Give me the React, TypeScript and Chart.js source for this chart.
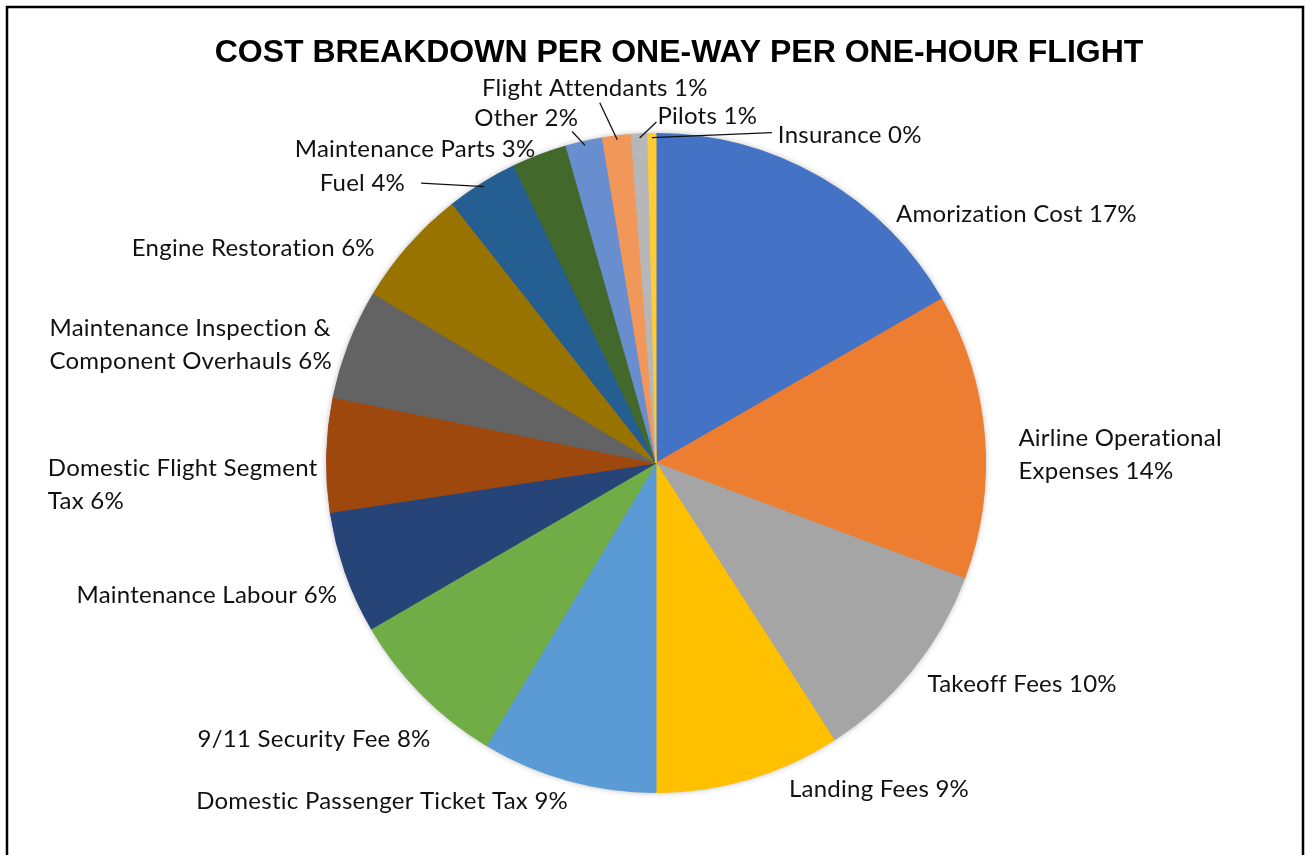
import React, { useEffect, useRef } from "react";
import { Chart, registerables } from "chart.js";

Chart.register(...registerables);

const TITLE = "COST BREAKDOWN PER ONE-WAY PER ONE-HOUR FLIGHT";

const CATEGORIES = [
  "Amorization Cost",
  "Airline Operational\nExpenses",
  "Takeoff Fees",
  "Landing Fees",
  "Domestic Passenger Ticket Tax",
  "9/11 Security Fee",
  "Maintenance Labour",
  "Domestic Flight Segment\nTax",
  "Maintenance Inspection &\nComponent Overhauls",
  "Engine Restoration",
  "Fuel",
  "Maintenance Parts",
  "Other",
  "Flight Attendants",
  "Pilots",
  "Insurance",
];

const VALUES = [16.7, 14.0, 10.2, 9.1, 8.6, 8.0, 6.0, 5.6, 5.4, 5.8, 3.5, 2.7, 1.8, 1.4, 0.8, 0.4];

const PERCENT_LABELS = ["17%", "14%", "10%", "9%", "9%", "8%", "6%", "6%", "6%", "6%", "4%", "3%", "2%", "1%", "1%", "0%"];

const COLORS = [
  "#4472C4", "#ED7D31", "#A5A5A5", "#FFC000", "#5B9BD5", "#70AD47",
  "#264478", "#9E480E", "#636363", "#997300", "#255E91", "#43682B",
  "#698ED0", "#F1975A", "#B7B7B7", "#FFCD33",
];

// label placement relative to the rim point at each slice's mid-angle: [dx, dy, align]
const LABEL_OFFSETS: [number, number, string][] = [
  [75, 36, "l"],
  [34, 18.5, "l"],
  [15, 14, "l"],
  [40, 10, "l"],
  [0, 21, "r"],
  [9, 45, "r"],
  [-8, 23, "r"],
  [-9, 30, "r"],
  [-17, 1, "r"],
  [-34, 3, "r"],
  [-77, 0, "r"],
  [-4, -6, "r"],
  [-6, -23, "r"],
  [91, -48, "r"],
  [18, -18, "l"],
  [126, 2, "l"],
];

// leader line end offsets relative to rim point
const LEADERS: Record<number, [number, number]> = {
  10: [-61, 0],
  12: [-12, -10],
  13: [-17, -33],
  14: [17, -12],
  15: [120, -1],
};

const LABEL_FONT = '24px Lato, "Noto Sans", sans-serif';
const LINE_HEIGHT = 33;

const overlayPlugin = {
  id: "overlay",
  beforeDatasetsDraw(chart: any) {
    const meta = chart.getDatasetMeta(0);
    const el = meta.data[0];
    if (!el) return;
    const p = el.getProps(["x", "y", "outerRadius"], true);
    const ctx = chart.ctx;
    ctx.save();
    ctx.shadowColor = "rgba(0,0,0,0.35)";
    ctx.shadowBlur = 6;
    ctx.fillStyle = "#888";
    ctx.beginPath();
    ctx.arc(p.x, p.y, p.outerRadius - 0.5, 0, Math.PI * 2);
    ctx.fill();
    ctx.restore();
  },
  afterDraw(chart: any) {
    const ctx = chart.ctx;
    const W = chart.width;
    ctx.save();
    // frame
    ctx.strokeStyle = "#000";
    ctx.lineWidth = 2.5;
    ctx.beginPath();
    ctx.moveTo(7, 900);
    ctx.lineTo(7, 7);
    ctx.lineTo(W - 3, 7);
    ctx.lineTo(W - 3, 900);
    ctx.stroke();

    // title
    ctx.fillStyle = "#000";
    ctx.font = 'bold 32px "Liberation Sans", Arial, sans-serif';
    ctx.textAlign = "center";
    ctx.textBaseline = "alphabetic";
    ctx.fillText(TITLE, 679, 62);

    // labels
    const meta = chart.getDatasetMeta(0);
    ctx.font = LABEL_FONT;
    try {
      (ctx as any).letterSpacing = "0.25px";
    } catch (e) {}
    ctx.textBaseline = "middle";
    ctx.fillStyle = "#111";
    meta.data.forEach((el: any, i: number) => {
      const p = el.getProps(["x", "y", "startAngle", "endAngle", "outerRadius"], true);
      const mid = (p.startAngle + p.endAngle) / 2;
      const rx = p.x + Math.cos(mid) * p.outerRadius;
      const ry = p.y + Math.sin(mid) * p.outerRadius;
      const [dx, dy, align] = LABEL_OFFSETS[i];
      const text = CATEGORIES[i] + " " + PERCENT_LABELS[i];
      const lines = text.split("\n");
      const widths = lines.map((l) => ctx.measureText(l).width);
      const bw = Math.max(...widths);
      const ax = rx + dx;
      const ay = ry + dy;
      const left = align === "l" ? ax : ax - bw;
      ctx.textAlign = "left";
      lines.forEach((l, k) => {
        const ly = ay + (k - (lines.length - 1) / 2) * LINE_HEIGHT;
        ctx.fillText(l, lines.length > 1 ? left : align === "l" ? ax : ax - widths[k], ly);
      });
      const lead = LEADERS[i];
      if (lead) {
        const sx = p.x + Math.cos(mid) * (p.outerRadius - 4);
        const sy = p.y + Math.sin(mid) * (p.outerRadius - 4);
        ctx.strokeStyle = "#111";
        ctx.lineWidth = 1.3;
        ctx.beginPath();
        ctx.moveTo(sx, sy);
        ctx.lineTo(rx + lead[0], ry + lead[1]);
        ctx.stroke();
      }
    });
    ctx.restore();
  },
};

export default function App() {
  const ref = useRef<HTMLCanvasElement | null>(null);
  useEffect(() => {
    if (!ref.current) return;
    const chart = new Chart(ref.current, {
      type: "pie",
      data: {
        labels: CATEGORIES,
        datasets: [
          {
            data: VALUES,
            backgroundColor: COLORS,
            borderColor: COLORS,
            borderWidth: 1,
          },
        ],
      },
      options: {
        responsive: false,
        animation: false,
        devicePixelRatio: 1,
        layout: { padding: { top: 133, bottom: 62, left: 326, right: 320 } },
        plugins: {
          legend: { display: false },
          tooltip: { enabled: false },
          title: { display: false },
        },
      },
      plugins: [overlayPlugin],
    });
    return () => chart.destroy();
  }, []);
  return (
    <div style={{ position: "absolute", left: 0, top: 0, width: 1306, height: 855, background: "#fff", overflow: "hidden" }}>
      <canvas ref={ref} width={1306} height={855} />
    </div>
  );
}
